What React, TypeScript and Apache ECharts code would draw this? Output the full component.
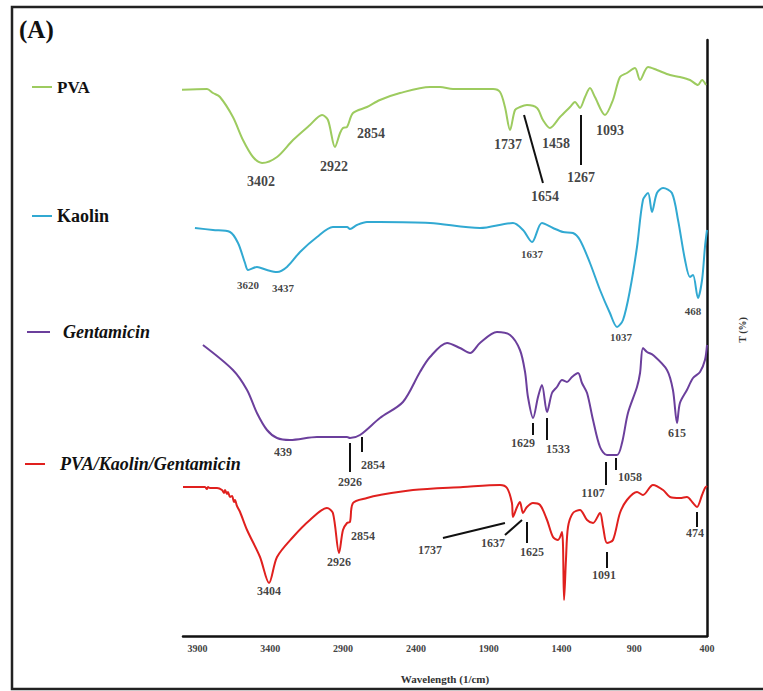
import React, { useEffect, useRef } from "react";
import * as echarts from "echarts";

const SERIF = '"Liberation Serif", "Times New Roman", serif';
const SHIFT = 400; // axis values are wavenumber - 400, so ticks land on 400, 900, ... 3900

// ---- spectra (wavenumber, offset transmittance) ----
const PVA_WN = [4055, 3835, 3794, 3746, 3657, 3588, 3519, 3457, 3354, 3244, 3128, 3045, 3004, 2956, 2921, 2901, 2873, 2832, 2736, 2647, 2509, 2303, 2234, 2145, 1870, 1822, 1788, 1753, 1719, 1685, 1637, 1568, 1527, 1479, 1410, 1341, 1307, 1273, 1238, 1204, 1170, 1101, 1046, 998, 950, 895, 860, 805, 744, 654, 586, 517, 462, 434, 407];
const PVA_T = [546, 547, 543, 539, 519, 496, 479, 473, 479, 496, 511, 521, 516, 489, 503, 508, 509, 523, 529, 536, 543, 549, 549, 547, 547, 544, 529, 506, 526, 529, 531, 528, 516, 508, 519, 529, 534, 528, 539, 548, 539, 521, 536, 559, 563, 568, 556, 569, 566, 561, 559, 556, 551, 556, 551];

const KAOLIN_WN = [3918, 3794, 3677, 3622, 3574, 3553, 3492, 3423, 3354, 3286, 3196, 3079, 2970, 2873, 2853, 2805, 2736, 2647, 2303, 1960, 1733, 1664, 1602, 1534, 1458, 1389, 1321, 1273, 1204, 1135, 1067, 1018, 977, 929, 881, 840, 805, 778, 744, 702, 641, 599, 551, 517, 496, 462, 434, 414, 400];
const KAOLIN_T = [408, 406, 404, 393, 373, 366, 369, 366, 364, 369, 384, 399, 409, 409, 407, 411, 414, 414, 413, 408, 413, 406, 394, 413, 408, 404, 403, 396, 373, 346, 323, 309, 316, 346, 389, 436, 443, 424, 443, 448, 443, 416, 376, 359, 361, 338, 356, 389, 406];

const GENTA_WN = [3863, 3657, 3560, 3492, 3423, 3354, 3265, 3079, 2873, 2853, 2784, 2647, 2489, 2372, 2303, 2186, 2097, 2028, 1960, 1843, 1753, 1685, 1650, 1630, 1595, 1561, 1534, 1499, 1465, 1431, 1396, 1362, 1328, 1286, 1259, 1224, 1183, 1135, 1087, 1018, 984, 943, 881, 860, 840, 812, 771, 675, 634, 606, 586, 538, 496, 448, 414, 400];
const GENTA_T = [291, 266, 246, 223, 206, 198, 196, 199, 199, 198, 201, 218, 234, 264, 279, 293, 288, 283, 293, 304, 301, 286, 264, 239, 218, 239, 251, 224, 243, 249, 256, 254, 259, 263, 253, 243, 216, 189, 181, 181, 193, 223, 249, 263, 288, 284, 281, 266, 246, 213, 233, 246, 258, 264, 276, 291];

const MIX_WN = [4000, 3883, 3849, 3836, 3828, 3815, 3766, 3732, 3718, 3711, 3698, 3691, 3677, 3663, 3650, 3643, 3629, 3608, 3560, 3471, 3409, 3354, 3244, 3128, 3011, 2970, 2928, 2901, 2873, 2853, 2832, 2736, 2647, 2420, 2076, 1822, 1774, 1740, 1733, 1705, 1685, 1664, 1637, 1596, 1547, 1499, 1458, 1424, 1396, 1382, 1369, 1355, 1321, 1273, 1224, 1183, 1135, 1114, 1087, 1046, 998, 950, 881, 840, 771, 702, 654, 586, 538, 496, 469, 434, 414, 400];
const MIX_T = [149, 149, 149, 147, 149, 148, 148, 146, 143, 146, 142, 144, 139, 140, 134, 136, 130, 124, 106, 79, 53, 79, 99, 116, 128, 123, 83, 106, 113, 114, 133, 138, 141, 146, 149, 151, 148, 133, 119, 129, 134, 123, 129, 133, 131, 116, 99, 96, 104, 36, 76, 109, 123, 126, 116, 113, 123, 109, 93, 96, 123, 136, 144, 141, 151, 146, 139, 138, 139, 133, 129, 141, 148, 150];

// ---- peak annotations: [label, wavenumber, level] ----
const PVA_PEAKS = [["3402", 3464, 455], ["2922", 2963, 470], ["2854", 2708, 503], ["1737", 1767, 492], ["1458", 1437, 493], ["1654", 1513, 440], ["1267", 1266, 459], ["1093", 1067, 506]];
const KAOLIN_PEAKS = [["3620", 3553, 351], ["3437", 3313, 348], ["1637", 1602, 382], ["1037", 991, 299], ["468", 496, 325]];
const GENTA_PEAKS = [["439", 3313, 184], ["2926", 2853, 154], ["2854", 2695, 171], ["1629", 1664, 193], ["1533", 1424, 187], ["1107", 1183, 143], ["1058", 929, 159], ["615", 606, 203]];
const MIX_PEAKS = [["3404", 3409, 45], ["2926", 2928, 74], ["2854", 2763, 100], ["1737", 2303, 86], ["1637", 1870, 93], ["1625", 1602, 84], ["1091", 1108, 61], ["474", 483, 103]];

// ---- leader lines: [wn1, level1, wn2, level2] ----
const LEADERS = [
  [1657, 521, 1527, 453], [1266, 521, 1266, 471],
  [2853, 193, 2853, 164], [2770, 199, 2770, 184], [1596, 213, 1596, 201], [1499, 218, 1499, 196], [1094, 174, 1094, 151], [1025, 178, 1025, 166],
  [2214, 98, 1788, 113], [1788, 101, 1671, 116], [1637, 114, 1637, 93], [1087, 84, 1087, 68], [469, 124, 469, 109],
];

const X_TICKS = [3900, 3400, 2900, 2400, 1900, 1400, 900, 400];

const zip = (xs: number[], ys: number[]) => xs.map((x, i) => [x - SHIFT, ys[i]]);

function curve(name: string, color: string, wn: number[], t: number[]) {
  return {
    name,
    type: "line",
    data: zip(wn, t),
    showSymbol: false,
    symbol: "none",
    smooth: 0.3,
    clip: false,
    silent: true,
    lineStyle: { color, width: 2 },
    itemStyle: { color },
    z: 3,
  };
}

function peakLabels(peaks: any[], size: number) {
  return {
    type: "scatter",
    data: peaks.map((p) => [p[1] - SHIFT, p[2], p[0]]),
    symbol: "circle",
    symbolSize: 1,
    itemStyle: { color: "rgba(0,0,0,0)" },
    silent: true,
    clip: false,
    z: 5,
    label: {
      show: true,
      position: "inside",
      formatter: (p: any) => p.value[2],
      fontFamily: SERIF,
      fontWeight: "bold",
      fontSize: size,
      color: "#111",
    },
  };
}

function legendFor(name: string, left: number, top: number, italic: boolean, size: number, padLeft: number, w: number) {
  return {
    data: [name],
    left,
    top,
    padding: 0,
    icon: "rect",
    itemWidth: w,
    itemHeight: 2,
    selectedMode: false,
    textStyle: {
      fontFamily: SERIF,
      fontWeight: "bold",
      fontStyle: italic ? "italic" : "normal",
      fontSize: size,
      lineHeight: 20,
      color: "#111",
      padding: [0, 0, 0, padLeft],
    },
  };
}

export default function App() {
  const ref = useRef<HTMLDivElement>(null);
  useEffect(() => {
    if (!ref.current) return;
    const chart = echarts.init(ref.current, null, { renderer: "svg" });
    chart.setOption({
      animation: false,
      backgroundColor: "#ffffff",
      grid: { left: 183, right: 56, top: 40, bottom: 55, containLabel: false },
      xAxis: {
        type: "value",
        inverse: true,
        min: 0,
        max: 3600,
        interval: 500,
        axisLine: { show: true, onZero: false, lineStyle: { color: "#111", width: 2.5 } },
        axisTick: { show: false },
        splitLine: { show: false },
        axisLabel: {
          margin: 7,
          fontFamily: SERIF,
          fontWeight: "bold",
          fontSize: 10,
          color: "#444",
          formatter: (v: number) => (X_TICKS.includes(v + SHIFT) ? String(v + SHIFT) : ""),
        },
        name: "Wavelength (1/cm)",
        nameLocation: "middle",
        nameGap: 37,
        nameTextStyle: { fontFamily: SERIF, fontWeight: "bold", fontSize: 11, color: "#333" },
      },
      yAxis: {
        type: "value",
        position: "right",
        min: 0,
        max: 596,
        axisLine: { show: true, lineStyle: { color: "#111", width: 2.5 } },
        axisTick: { show: false },
        axisLabel: { show: false },
        splitLine: { show: false },
      },
      legend: [
        legendFor("PVA", 32, 77, false, 17, 0, 20),
        legendFor("Kaolin", 32, 206, false, 18, 0, 20),
        legendFor("Gentamicin", 27, 322, true, 18, 8, 23),
        legendFor("PVA/Kaolin/Gentamicin", 25, 454, true, 18, 10, 20),
      ],
      graphic: [
        { type: "rect", shape: { x: 12, y: 7, width: 770, height: 682 }, style: { fill: "none", stroke: "#222", lineWidth: 2.5 }, silent: true },
        { type: "text", x: 19, y: 17, style: { text: "(A)", fontFamily: SERIF, fontWeight: "bold", fontSize: 25, fill: "#111" }, silent: true },
        { type: "text", x: 742, y: 330, rotation: Math.PI / 2, style: { text: "T (%)", fontFamily: SERIF, fontWeight: "bold", fontSize: 10, fill: "#333", align: "center", verticalAlign: "middle" }, silent: true },
      ],
      series: [
        curve("PVA", "#9dcb5f", PVA_WN, PVA_T),
        curve("Kaolin", "#31a9d2", KAOLIN_WN, KAOLIN_T),
        curve("Gentamicin", "#6b3f9c", GENTA_WN, GENTA_T),
        curve("PVA/Kaolin/Gentamicin", "#e0201e", MIX_WN, MIX_T),
        {
          type: "lines",
          coordinateSystem: "cartesian2d",
          silent: true,
          z: 4,
          lineStyle: { color: "#111", width: 2, opacity: 1 },
          data: LEADERS.map((l) => ({ coords: [[l[0] - SHIFT, l[1]], [l[2] - SHIFT, l[3]]] })),
        },
        peakLabels(PVA_PEAKS, 14),
        peakLabels(KAOLIN_PEAKS, 11),
        peakLabels(GENTA_PEAKS, 12),
        peakLabels(MIX_PEAKS, 12),
      ],
    });
    return () => chart.dispose();
  }, []);
  return <div ref={ref} style={{ position: "absolute", left: 0, top: 0, width: 763, height: 691 }} />;
}
